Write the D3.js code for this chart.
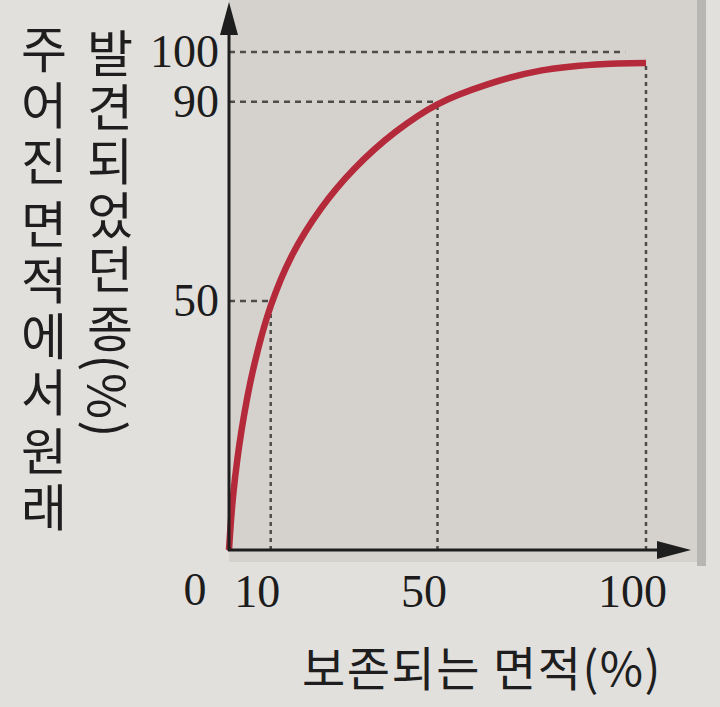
<!DOCTYPE html>
<html>
<head>
<meta charset="utf-8">
<script src="https://cdn.jsdelivr.net/npm/d3@7"></script>
<style>
  html, body { margin: 0; padding: 0; background: #e2e0dd; }
  svg { display: block; }
</style>
</head>
<body>
<svg id="chart" width="720" height="707"></svg>
<script>
// ---- data ----
const areaPreserved = [0, 1, 3, 6, 10, 15, 22, 30, 40, 50, 62, 75, 88, 100];
const speciesFound  = [0, 11, 24, 37, 49, 59, 68.5, 76.5, 84, 89.5, 93.5, 96.3, 97.5, 97.8];
const xTickValues = [10, 50, 100];
const yTickValues = [50, 90, 100];
const originLabel = "0";
const guideX = [10, 50, 100];      // vertical guides: x value
const guideXTop = [50, 90, 97.8];  // ...up to this y value
const guideY = [50, 90, 100];      // horizontal guides: y value
const guideYEnd = [10, 50, 95];    // ...out to this x value
const xTitle = "보존되는 면적(%)";
const yTitleCol1 = ["주어진", "면적에서", "원래"];
const yTitleCol2 = ["발견되었던", "종(%)"];

const svg = d3.select("#chart");
const x = d3.scaleLinear().domain([0, 100]).range([229, 646]);
const y = d3.scaleLinear().domain([0, 100]).range([550, 52]);

// photographed panel behind the plot
svg.append("rect").attr("x", 229).attr("y", 0).attr("width", 468).attr("height", 562)
  .attr("fill", "#d5d2ce");
svg.append("rect").attr("x", 697).attr("y", 0).attr("width", 9).attr("height", 566)
  .attr("fill", "#b8b6b3");

// guides
const g = svg.append("g").attr("stroke", "#4e4c4a").attr("fill", "none");
guideY.forEach((v, i) => {
  g.append("line").attr("x1", x(0)).attr("x2", x(guideYEnd[i]))
    .attr("y1", y(v)).attr("y2", y(v)).attr("stroke-width", 2.5).attr("stroke-dasharray", "6,5");
});
guideX.forEach((v, i) => {
  g.append("line").attr("x1", x(v)).attr("x2", x(v))
    .attr("y1", y(0)).attr("y2", y(guideXTop[i])).attr("stroke-width", 2.5).attr("stroke-dasharray", "4,4");
});

// curve
const pts = areaPreserved.map((a, i) => [a, speciesFound[i]]);
svg.append("path").datum(pts)
  .attr("d", d3.line().x(d => x(d[0])).y(d => y(d[1])).curve(d3.curveCatmullRom.alpha(0.5)))
  .attr("fill", "none").attr("stroke", "#b52a3b").attr("stroke-width", 6.5);

// axes
const serif = "'Liberation Serif', 'DejaVu Serif', serif";
const yAxis = svg.append("g").attr("transform", `translate(${x(0)},0)`)
  .call(d3.axisLeft(y).tickValues(yTickValues).tickSize(0).tickPadding(10));
yAxis.select(".domain").remove();
yAxis.selectAll("text").attr("font-family", serif).attr("font-size", 46).attr("fill", "#1c1c1c");

const xAxis = svg.append("g").attr("transform", `translate(0,${y(0)})`)
  .call(d3.axisBottom(x).tickValues(xTickValues).tickSize(0));
xAxis.select(".domain").remove();
xAxis.selectAll("text").attr("font-family", serif).attr("font-size", 46).attr("fill", "#1c1c1c")
  .attr("x", -14).attr("y", 57).attr("dy", 0);

svg.append("text").attr("x", x(0) - 34).attr("y", y(0) + 55)
  .attr("text-anchor", "middle").attr("font-family", serif).attr("font-size", 46)
  .attr("fill", "#1c1c1c").text(originLabel);

// axis lines with arrows
svg.append("line").attr("x1", x(0)).attr("x2", x(0)).attr("y1", y(0) + 1).attr("y2", 30)
  .attr("stroke", "#1e1e1e").attr("stroke-width", 3);
svg.append("path").attr("d", `M${x(0)},2 L${x(0) - 9},35 L${x(0) + 9},35 Z`).attr("fill", "#1e1e1e");
svg.append("line").attr("x1", x(0) - 1).attr("x2", 665).attr("y1", y(0)).attr("y2", y(0))
  .attr("stroke", "#1e1e1e").attr("stroke-width", 3);
svg.append("path").attr("d", `M691,${y(0)} L657,${y(0) - 9} L657,${y(0) + 9} Z`).attr("fill", "#1e1e1e");

// titles
const kfont = "'Noto Sans CJK KR', 'Noto Sans', sans-serif";
svg.append("text").attr("x", 662).attr("y", 686).attr("text-anchor", "end")
  .attr("font-family", kfont).attr("font-weight", 400).attr("font-size", 47)
  .attr("letter-spacing", 1.5).attr("fill", "#1e1e1e").text(xTitle);

const col1Y = [24, 199, 426];
yTitleCol1.forEach((t, i) => {
  svg.append("text").attr("x", 44).attr("y", col1Y[i])
    .style("writing-mode", "vertical-rl").attr("letter-spacing", 6)
    .attr("font-family", kfont).attr("font-weight", 400).attr("font-size", 50)
    .attr("fill", "#1e1e1e").text(t);
});
const col2Y = [28, 303];
const col2Spacing = [4, 1.5];
yTitleCol2.forEach((t, i) => {
  svg.append("text").attr("x", 110).attr("y", col2Y[i])
    .style("writing-mode", "vertical-rl").attr("letter-spacing", col2Spacing[i])
    .attr("font-family", kfont).attr("font-weight", 400).attr("font-size", 50)
    .attr("fill", "#1e1e1e").text(t);
});
</script>
</body>
</html>
